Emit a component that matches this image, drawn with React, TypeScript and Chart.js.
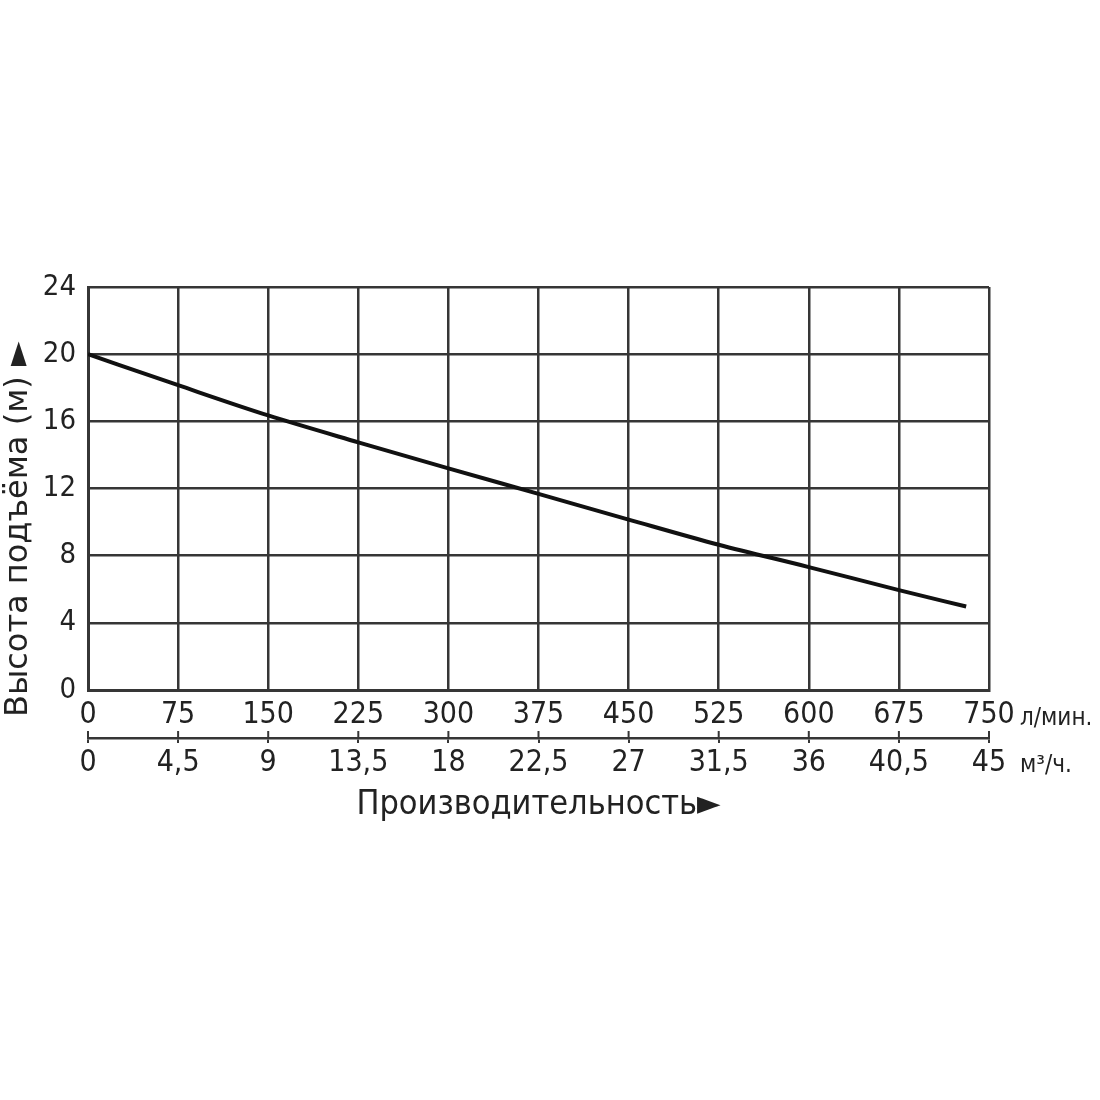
import React, { useEffect, useRef } from 'react';
import { Chart, registerables } from 'chart.js';

Chart.register(...registerables);

// ---- data ----
const flowLpm = [0, 75, 150, 225, 300, 375, 450, 525, 600, 675, 731];
const headM = [20, 18.15, 16.35, 14.75, 13.2, 11.68, 10.15, 8.65, 7.32, 5.95, 4.97];
const lpmTickLabels = ['0', '75', '150', '225', '300', '375', '450', '525', '600', '675', '750'];
const m3hTickLabels = ['0', '4,5', '9', '13,5', '18', '22,5', '27', '31,5', '36', '40,5', '45'];
const yTickLabels = ['0', '4', '8', '12', '16', '20', '24'];
const yTitle = 'Высота подъёма (м) ►';
const xTitle = 'Производительность►';
const lpmUnit = 'л/мин.';
const m3hUnit = 'м³/ч.';

const FONT = '"DejaVu Sans Condensed", "DejaVu Sans", sans-serif';
const FONT_REG = '"DejaVu Sans", sans-serif';
const TEXT = '#222';
const GRID = '#363636';

const extrasPlugin = {
  id: 'extras',
  afterDraw(chart: any) {
    const ctx = chart.ctx;
    const x = chart.scales.x;
    const x2 = chart.scales.x2;
    const y = chart.scales.y;
    ctx.save();
    // upward halves of the tick marks on the second x axis line
    ctx.strokeStyle = GRID;
    ctx.lineWidth = 2;
    x2.ticks.forEach((t: any) => {
      const px = x2.getPixelForValue(t.value);
      ctx.beginPath();
      ctx.moveTo(px, x2.top - 7);
      ctx.lineTo(px, x2.top);
      ctx.stroke();
    });
    // unit labels
    ctx.fillStyle = TEXT;
    ctx.font = `24px ${FONT}`;
    ctx.textAlign = 'left';
    ctx.textBaseline = 'alphabetic';
    ctx.fillText(lpmUnit, chart.chartArea.right + 31, x.top + 35);
    ctx.fillText(m3hUnit, chart.chartArea.right + 31, x2.top + 34);
    // y axis title (rotated, starting a little below the axis bottom)
    ctx.font = `32px ${FONT_REG}`;
    ctx.translate(y.left + 27, y.bottom + 27);
    ctx.rotate(-Math.PI / 2);
    ctx.fillText(yTitle, 0, 0);
    ctx.restore();
  },
};

export default function App() {
  const ref = useRef<HTMLCanvasElement | null>(null);
  useEffect(() => {
    if (!ref.current) return;
    const chart = new Chart(ref.current, {
      type: 'line',
      data: {
        datasets: [
          {
            data: flowLpm.map((v, i) => ({ x: v, y: headM[i] })),
            borderColor: '#111',
            borderWidth: 4,
            pointRadius: 0,
            cubicInterpolationMode: 'monotone',
            fill: false,
          },
        ],
      },
      options: {
        responsive: false,
        animation: false,
        devicePixelRatio: 1,
        layout: { padding: { left: 0, top: 287, right: 111, bottom: 273 } },
        plugins: { legend: { display: false }, tooltip: { enabled: false } },
        scales: {
          x: {
            type: 'linear',
            position: 'bottom',
            min: 0,
            max: 750,
            ticks: {
              stepSize: 75,
              autoSkip: false,
              maxRotation: 0,
              padding: 7,
              color: TEXT,
              font: { family: FONT, size: 30 },
              callback: (_v: any, i: number) => lpmTickLabels[i],
            },
            grid: { color: GRID, lineWidth: 2.5, drawTicks: false },
            border: { color: GRID, width: 3 },
            afterFit: (s: any) => {
              s.height = 48;
            },
          },
          x2: {
            type: 'linear',
            position: 'bottom',
            min: 0,
            max: 750,
            ticks: {
              stepSize: 75,
              autoSkip: false,
              maxRotation: 0,
              padding: 2,
              color: TEXT,
              font: { family: FONT, size: 30 },
              callback: (_v: any, i: number) => m3hTickLabels[i],
            },
            grid: { drawOnChartArea: false, drawTicks: true, tickLength: 5, color: GRID, lineWidth: 2 },
            border: { color: GRID, width: 2.5 },
            title: {
              display: true,
              text: xTitle,
              color: TEXT,
              font: { family: FONT, size: 34 },
              padding: { top: 0, bottom: 1 },
            },
            afterFit: (s: any) => {
              s.height = 89;
            },
          },
          y: {
            min: 0,
            max: 24,
            ticks: {
              stepSize: 4,
              padding: 12,
              color: TEXT,
              font: { family: FONT, size: 29 },
              callback: (_v: any, i: number) => yTickLabels[i],
            },
            grid: { color: GRID, lineWidth: 2.5, drawTicks: false },
            border: { color: GRID, width: 3 },
            title: { display: false, text: yTitle },
            afterFit: (s: any) => {
              s.width = 88;
            },
          },
        },
      } as any,
      plugins: [extrasPlugin],
    });
    return () => chart.destroy();
  }, []);
  return (
    <div style={{ position: 'absolute', left: 0, top: 0, width: 1100, height: 1100, background: '#fff' }}>
      <canvas ref={ref} width={1100} height={1100} style={{ display: 'block' }} />
    </div>
  );
}
